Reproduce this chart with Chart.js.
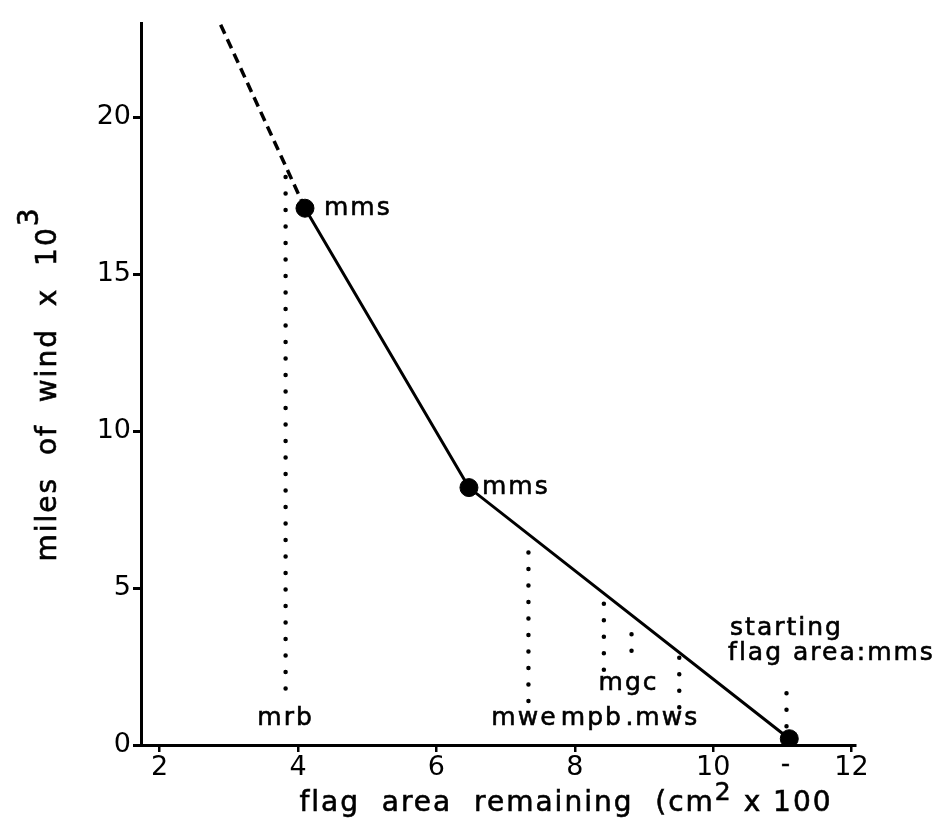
<!DOCTYPE html>
<html>
<head>
<meta charset="utf-8">
<script src="https://cdn.jsdelivr.net/npm/chart.js@4.4.0/dist/chart.umd.min.js"></script>
<style>
html, body { margin: 0; padding: 0; background: #fff; }
#wrap { width: 947px; height: 824px; }
</style>
</head>
<body>
<div id="wrap"><canvas id="grafico"></canvas></div>
<script>
// measured curve (flag area remaining, miles of wind x 1000)
const areaCurve = [11.1, 6.47, 4.1];
const windCurve = [0.2, 8.2, 17.1];
// dashed extrapolation above the last point
const areaExtra = [4.1, 2.87];
const windExtra = [17.1, 23.0];

// flag materials: dotted drop lines
const materials = ["mrb", "mwe", "mpb", "mgc", "mws", "starting"];
const materialArea = [3.82, 7.33, 8.42, 8.82, 9.51, 11.06];
const dropLow = [1.8, 1.4, 2.4, 3.0, 1.2, 0.6];
const dropHigh = [18.3, 6.6, 4.8, 3.9, 2.8, 2.1];

const xTicks = [2, 4, 6, 8, 10, 12];
const yTicks = [0, 5, 10, 15, 20];

const fonte = '"DejaVu Sans", sans-serif';
const preto = "#000";

// onde vai cada texto (offsets em px a partir do ponto de dados)
const rotulos = [
    { txt: "mrb", x: 3.82, y: 0, dx: 0, dy: -27 },
    { txt: "mwe", x: 7.33, y: 0, dx: -4, dy: -27 },
    { txt: "mpb", x: 8.42, y: 0, dx: -12, dy: -27 },
    { txt: "mgc", x: 8.82, y: 0, dx: -3, dy: -62 },
    { txt: ".mws", x: 9.51, y: 0, dx: -17, dy: -27 },
    { txt: "starting", x: 11.06, y: 0, dx: 0, dy: -117 },
    { txt: "flag area:mms", x: 11.06, y: 0, dx: 45, dy: -92 },
    { txt: "-", x: 11.06, y: 0, dx: 0, dy: 20 },
    { txt: "mms", x: areaCurve[2], y: windCurve[2], dx: 19, dy: 0, esq: true },
    { txt: "mms", x: areaCurve[1], y: windCurve[1], dx: 13, dy: 0, esq: true }
];

function pontos(xs, ys) {
    return xs.map((x, i) => ({ x: x, y: ys[i] }));
}

const linhasPontilhadas = materials.map((m, i) => ({
    label: m,
    data: [{ x: materialArea[i], y: dropLow[i] }, { x: materialArea[i], y: dropHigh[i] }],
    showLine: true,
    borderColor: preto,
    borderWidth: 4.5,
    borderDash: [0, 16.5],
    borderCapStyle: "round",
    pointRadius: 0
}));

const textos = {
    id: "textos",
    afterDatasetsDraw(chart) {
        const ctx = chart.ctx;
        const sx = chart.scales.x, sy = chart.scales.y;
        ctx.save();
        ctx.fillStyle = preto;
        ctx.strokeStyle = preto;
        ctx.lineWidth = 0.6;
        ctx.letterSpacing = "2px";
        ctx.font = "25px " + fonte;
        ctx.textBaseline = "middle";
        rotulos.forEach(r => {
            ctx.textAlign = r.esq ? "left" : "center";
            const px = sx.getPixelForValue(r.x) + r.dx;
            const py = sy.getPixelForValue(r.y) + r.dy;
            ctx.fillText(r.txt, px, py);
            ctx.strokeText(r.txt, px, py);
        });

        // titulo do eixo x, com expoente
        const partes = [["flag  area  remaining  (cm", 0, 28], ["2", -11, 25], [" x 100", 0, 28]];
        desenharPartes(ctx, partes, 566, 804);

        // titulo do eixo y, girado
        ctx.translate(49, 384);
        ctx.rotate(-Math.PI / 2);
        desenharPartes(ctx, [["miles  of  wind  x  10", 0, 28], ["3", -18, 28]], 0, 0);
        ctx.restore();
    }
};

function desenharPartes(ctx, partes, cx, cy) {
    let larg = 0;
    partes.forEach(p => { ctx.font = p[2] + "px " + fonte; larg += ctx.measureText(p[0]).width; });
    let x = cx - larg / 2;
    ctx.textAlign = "left";
    ctx.textBaseline = "middle";
    partes.forEach(p => {
        ctx.font = p[2] + "px " + fonte;
        ctx.fillText(p[0], x, cy + p[1]);
        ctx.strokeText(p[0], x, cy + p[1]);
        x += ctx.measureText(p[0]).width;
    });
}

const ctx = document.getElementById("grafico").getContext("2d");
const myChart = new Chart(ctx, {
    type: "scatter",
    data: {
        datasets: [
            {
                label: "curva",
                data: pontos(areaCurve, windCurve),
                showLine: true,
                borderColor: preto,
                borderWidth: 3,
                pointRadius: 0
            },
            {
                label: "extrapolada",
                data: pontos(areaExtra, windExtra),
                showLine: true,
                borderColor: preto,
                borderWidth: 3.5,
                borderDash: [10, 6],
                pointRadius: 0
            },
            {
                label: "mms",
                data: pontos(areaCurve, windCurve),
                showLine: false,
                pointRadius: 9,
                pointBackgroundColor: preto,
                pointBorderColor: preto
            },
            ...linhasPontilhadas
        ]
    },
    options: {
        responsive: true,
        maintainAspectRatio: false,
        animation: false,
        layout: { padding: { top: 23, right: 92, bottom: 0, left: 0 } },
        plugins: {
            legend: { display: false },
            tooltip: { enabled: false }
        },
        scales: {
            x: {
                type: "linear",
                min: 1.73,
                max: 12.05,
                afterBuildTicks: s => { s.ticks = xTicks.map(v => ({ value: v })); },
                afterFit: s => { s.height = 79; },
                ticks: { color: preto, font: { family: fonte, size: 27 }, padding: 0 },
                grid: { drawOnChartArea: false, drawTicks: true, tickLength: 7, color: preto, lineWidth: 2.5 },
                border: { color: preto, width: 3 }
            },
            y: {
                type: "linear",
                min: 0,
                max: 23,
                afterBuildTicks: s => { s.ticks = yTicks.map(v => ({ value: v })); },
                afterFit: s => { s.width = 141; },
                ticks: { color: preto, font: { family: fonte, size: 27 }, padding: 2 },
                grid: { drawOnChartArea: false, drawTicks: true, tickLength: 8, color: preto, lineWidth: 3 },
                border: { color: preto, width: 3 }
            }
        }
    },
    plugins: [textos]
});
</script>
</body>
</html>
